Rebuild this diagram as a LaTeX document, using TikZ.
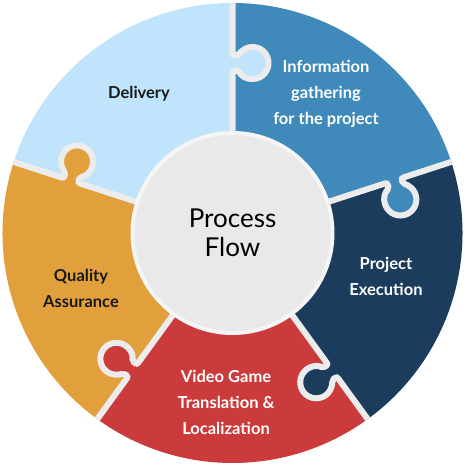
\documentclass[tikz,border=0pt]{standalone}
\usepackage{fontspec}
\setmainfont{Lato}
\usepackage{tikz}
\usetikzlibrary{positioning}
\definecolor{deliverycolor}{HTML}{C0E4FB}
\definecolor{infocolor}{HTML}{3F8ABA}
\definecolor{execcolor}{HTML}{1B3C5C}
\definecolor{loccolor}{HTML}{CC3B3B}
\definecolor{qacolor}{HTML}{E2A03C}
\definecolor{gapcolor}{HTML}{ECECEC}
\definecolor{hubcolor}{HTML}{E9E9E9}

\begin{document}
\begin{tikzpicture}[
    x=1pt, y=1pt,
    gapline/.style={draw=gapcolor, line width=6pt, rounded corners=2pt},
    hub/.style={circle, fill=hubcolor, draw=gapcolor!50!white, line width=4pt, minimum size=200pt, inner sep=0pt, align=center, font=\fontsize{26}{29}\selectfont},
    steplabel/.style={align=center, text=black!90, font=\bfseries\fontsize{16.5}{26}\selectfont}
]
    % Frame
    \useasboundingbox (-232.5,-235) rectangle (235.5,233);

    % Pieces
    \foreach \a/\col in {90/deliverycolor, 18/infocolor, -54/execcolor, -126/loccolor, 162/qacolor}
        \fill[\col] (0,0) -- (\a:230) arc[start angle=\a, end angle=\a+72, radius=230] -- cycle;

    % Knobs
    \foreach \a/\col in {90/deliverycolor, 18/infocolor, -54/execcolor, -126/loccolor, 162/qacolor} {
        \begin{scope}[rotate=\a]
            \fill[\col] (162.5,1) -- (162.5,-5.9) arc[start angle={180-acos(7.5/16)}, end angle={360+acos(7.5/16)}, radius=16] -- (177.5,1) -- cycle;
            \draw[gapline] (0,0) -- (162.5,0) -- (162.5,-5.9) arc[start angle={180-acos(7.5/16)}, end angle={360+acos(7.5/16)}, radius=16] -- (177.5,0) -- (230,0);
        \end{scope}
    }

    % Hub
    \node[hub] (hub) at (0,0) {Process\\Flow};

    % Labels
    \node[steplabel] (delivery) at (-93.5,139) {Delivery};
    \node[steplabel, text=white] (info) at (93.5,139) {Information\\gathering\\for the project};
    \node[steplabel, text=white] (exec) at (153.5,-43) {Project\\Execution};
    \node[steplabel, text=white] (loc) at (-6.5,-169) {Video Game\\Translation \&\\Localization};
    \node[steplabel] (qa) at (-151.5,-55) {Quality\\Assurance};
\end{tikzpicture}
\end{document}
